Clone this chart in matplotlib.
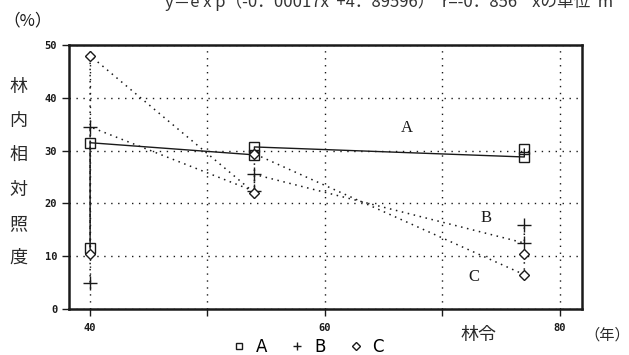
import matplotlib.pyplot as plt
from matplotlib.lines import Line2D

# 林令 (年) と 林内相対照度 (%)
years = [40, 40, 54, 54, 77, 77]
A = [11.5, 31.5, 29.2, 30.7, 28.8, 30.3]
B = [5.0, 34.5, 22.3, 25.5, 12.5, 16.0]
C = [10.5, 48.0, 22.0, 29.4, 6.5, 10.5]

xticks = [40, 50, 60, 70, 80]
xticklabels = ['40', '', '60', '', '80']
yticks = [0, 10, 20, 30, 40, 50]

title = 'y＝e x p（-0．00017x  +4．89596）  r=-0．856    xの単位  m'
ylabel = '林内相対照度'

jp = ['Noto Sans CJK JP', 'DejaVu Sans']
ink = '#1a1a1a'

fig = plt.figure(figsize=(6.29, 3.55), dpi=100)
ax = fig.add_axes([0.1097, 0.1296, 0.8153, 0.7434])

ax.plot(years, A, color=ink, lw=1.0, ls='-', marker='s', ms=7.5,
        mfc='none', mec=ink, mew=1.0)
ax.plot(years, B, color=ink, lw=1.1, ls=(0, (1, 3)), marker='+', ms=10,
        mec=ink, mew=1.0)
ax.plot(years, C, color=ink, lw=1.1, ls=(0, (1, 3)), marker='D', ms=5,
        mfc='white', mec=ink, mew=1.0)

ax.set_xlim(38.2, 81.9)
ax.set_ylim(0, 50)
ax.set_xticks(xticks)
ax.set_xticklabels(xticklabels)
ax.set_yticks(yticks)
ax.tick_params(direction='out', length=5, width=1, colors=ink, labelsize=7.5)
ax.tick_params(axis='x', pad=5)
for lab in ax.get_xticklabels() + ax.get_yticklabels():
    lab.set_family('DejaVu Sans Mono')
    lab.set_weight('bold')
ax.grid(True, color=ink, ls=(0, (1, 4)), lw=1.0)
for s in ax.spines.values():
    s.set_linewidth(1.8)
    s.set_color(ink)

# 曲線ラベル
ax.text(66.5, 33.5, 'A', family='Liberation Serif', fontsize=12, color=ink)
ax.text(73.3, 16.5, 'B', family='Liberation Serif', fontsize=12, color=ink)
ax.text(72.2, 5.3, 'C', family='Liberation Serif', fontsize=12, color=ink)

# 上の式 (上が切れている)
fig.text(0.262, 0.980, title, family=jp, fontsize=12, color='#333333',
         va='baseline')
fig.text(0.005, 0.94, '（%）', family=jp, fontsize=12, color=ink,
         va='center')
for i, ch in enumerate(ylabel):
    fig.text(0.029, 0.755 - i * 0.0963, ch, family=jp, fontsize=13,
             color='#2a2a2a', ha='center', va='center')
fig.text(0.76, 0.056, '林令', family=jp, fontsize=13, color='#2a2a2a',
         ha='center', va='center')
fig.text(0.966, 0.056, '（年）', family=jp, fontsize=11, color='#2a2a2a',
         ha='center', va='center')

handles = [
    Line2D([], [], ls='none', marker='s', ms=5, mfc='none', mec=ink, label='A'),
    Line2D([], [], ls='none', marker='+', ms=6, mec=ink, label='B'),
    Line2D([], [], ls='none', marker='D', ms=4, mfc='none', mec=ink, label='C'),
]
fig.legend(handles=handles, ncol=3, frameon=False, loc='center',
           bbox_to_anchor=(0.49, 0.022), handlelength=0.8, handletextpad=0.6,
           columnspacing=1.4, fontsize=12, borderpad=0)

fig.savefig('out.png', dpi=100, facecolor='white')
